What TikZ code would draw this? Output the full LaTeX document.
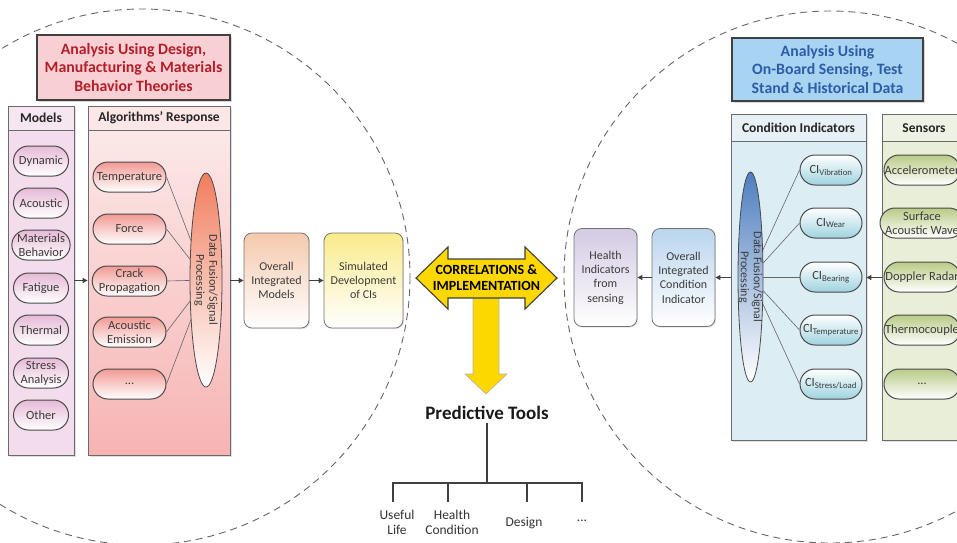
\documentclass[tikz,border=0pt]{standalone}
\usepackage{fontspec}
\setmainfont{Carlito}
\usetikzlibrary{shapes.misc,shapes.geometric,arrows.meta,shadows}

\definecolor{txt}{HTML}{3C3C3C}
\definecolor{edge}{HTML}{4A4A4A}
\definecolor{colline}{HTML}{6B6B6B}
\definecolor{leftTitleFill}{HTML}{F8D0D3}
\definecolor{leftTitleText}{HTML}{B21F2B}
\definecolor{rightTitleFill}{HTML}{A8D4F1}
\definecolor{rightTitleText}{HTML}{2D5CA8}
\definecolor{modelsBody}{HTML}{F3DDEC}
\definecolor{modelsHead}{HTML}{F6E6F1}
\definecolor{modelsPill}{HTML}{E6B9D6}
\definecolor{algoHead}{HTML}{FCE6E6}
\definecolor{algoTop}{HTML}{FDECEC}
\definecolor{algoBottom}{HTML}{F6B4B3}
\definecolor{algoPill}{HTML}{F29A94}
\definecolor{algoFuse}{HTML}{F17D5E}
\definecolor{ciBody}{HTML}{DDEDF4}
\definecolor{ciHead}{HTML}{E7F0F5}
\definecolor{ciPill}{HTML}{9ED2DF}
\definecolor{ciFuse}{HTML}{4E7EC0}
\definecolor{senBody}{HTML}{E8EED8}
\definecolor{senHead}{HTML}{EEF2E5}
\definecolor{senPill}{HTML}{B8CB86}
\definecolor{modelBox}{HTML}{F5C9AD}
\definecolor{simBox}{HTML}{F9EB8C}
\definecolor{healthBox}{HTML}{D4CAE3}
\definecolor{condBox}{HTML}{BAD5EE}
\definecolor{gold}{HTML}{FDD700}

\newcommand\cisub[1]{CI\textsubscript{#1}}

\begin{document}
\begin{tikzpicture}[x=1pt,y=-1pt,
  every node/.style={text=txt, align=center, font=\fontsize{12.5}{14}\selectfont},
  region/.style={draw=black!60, line width=0.9pt, dash pattern=on 7pt off 5pt},
  title/.style={draw=black!75, line width=1.1pt, inner sep=0pt,
    font=\fontsize{15.8}{18.5}\selectfont\bfseries,
    drop shadow={shadow xshift=2pt,shadow yshift=-2pt,opacity=0.3}},
  colbody/.style={draw=colline, line width=0.8pt, inner sep=0pt,
    drop shadow={shadow xshift=1.5pt,shadow yshift=-1.5pt,opacity=0.25}},
  colhead/.style={draw=colline, line width=0.8pt, inner sep=0pt, text=black!85,
    font=\fontsize{13.5}{15}\selectfont\bfseries},
  pill/.style={rounded rectangle, draw=edge, line width=1pt, inner xsep=0pt,
    inner ysep=1pt, minimum height=30pt, bottom color=white},
  fuse/.style={ellipse, draw=edge, line width=0.8pt, inner sep=0pt, bottom color=white},
  fusetext/.style={rotate=-90, inner sep=0pt, font=\fontsize{12}{13}\selectfont},
  stage/.style={rectangle, rounded corners=8pt, draw=black!55, line width=0.8pt,
    inner sep=0pt, bottom color=white, font=\fontsize{12}{14.3}\selectfont,
    drop shadow={shadow xshift=1.2pt,shadow yshift=-1.2pt,opacity=0.2}},
  link/.style={draw=black!60, line width=0.6pt},
  arr/.style={draw=black!75, line width=0.9pt, -{Triangle[length=5pt,width=5pt]}},
  tree/.style={draw=black!75, line width=1.5pt},
  leaf/.style={text=black!80, font=\fontsize{13.5}{15}\selectfont}
]
\useasboundingbox (0,0) rectangle (957,542);
\clip (0,0) rectangle (957,542);

% the two dashed analysis domains
\draw[region] (142,277) circle[radius=268];
\draw[region] (830,277) circle[radius=266];

% ---------------- left domain ----------------
\node[title, fill=leftTitleFill, text=leftTitleText, minimum width=193pt,
  minimum height=65pt] (ltitle) at (133.5,67.5)
  {Analysis Using Design,\\Manufacturing \& Materials\\Behavior Theories};

% models column
\node[colbody, fill=modelsBody, minimum width=66pt, minimum height=349pt] (models) at (41,280.5) {};
\node[colhead, fill=modelsHead, minimum width=66pt, minimum height=24pt] (modelsHd) at (41,118) {Models};
\node[pill, top color=modelsPill, minimum width=55pt] (m1) at (41,161) {Dynamic};
\node[pill, top color=modelsPill, minimum width=55pt] (m2) at (41,203) {Acoustic};
\node[pill, top color=modelsPill, minimum width=55pt] (m3) at (41,245) {Materials\\Behavior};
\node[pill, top color=modelsPill, minimum width=55pt] (m4) at (41,288) {Fatigue};
\node[pill, top color=modelsPill, minimum width=55pt] (m5) at (41,330) {Thermal};
\node[pill, top color=modelsPill, minimum width=55pt] (m6) at (41,373) {Stress\\Analysis};
\node[pill, top color=modelsPill, minimum width=55pt] (m7) at (41,415) {Other};

% algorithms column
\node[colbody, top color=algoTop, bottom color=algoBottom, minimum width=142pt,
  minimum height=349pt] (algo) at (159,280.5) {};
\node[colhead, fill=algoHead, minimum width=142pt, minimum height=24pt] (algoHd) at (159,118) {Algorithms’ Response};
\node[pill, top color=algoPill, minimum width=73pt] (a1) at (129.5,177) {Temperature};
\node[pill, top color=algoPill, minimum width=73pt] (a2) at (129.5,229) {Force};
\node[pill, top color=algoPill, minimum width=73pt] (a3) at (129.5,281) {Crack\\Propagation};
\node[pill, top color=algoPill, minimum width=73pt] (a4) at (129.5,332) {Acoustic\\Emission};
\node[pill, top color=algoPill, minimum width=73pt] (a5) at (129.5,384) {...};

\node[fuse, top color=algoFuse, minimum width=32pt, minimum height=214pt] (fuseL) at (206,280) {};
\node[fusetext] (fuseLtext) at (fuseL) {Data Fusion/Signal\\Processing};
\foreach \p in {a1,a2,a3,a4,a5}
  \draw[link] (\p.east) -- (fuseL);

% integration stages
\node[stage, top color=modelBox, minimum width=65pt, minimum height=95pt] (oim) at (276.5,280.5)
  {Overall\\Integrated\\Models};
\node[stage, top color=simBox, minimum width=79pt, minimum height=95pt] (sim) at (363.5,280.5)
  {Simulated\\Development\\of CIs};

\draw[arr] (models.east) -- (algo.west);
\draw[arr] (algo.east) -- (oim.west);
\draw[arr] (oim.east) -- (sim.west);

% ---------------- centre ----------------
\filldraw[fill=gold, draw=black!30, line width=0.6pt]
  (473,297) -- (499,297) -- (499,374) -- (507,374) -- (486,394) -- (465,374) -- (473,374) -- cycle;
\filldraw[fill=gold, draw=black!75, line width=1.1pt]
  (416,278) -- (448,247) -- (448,259) -- (525,259) -- (525,247) -- (557,278)
  -- (525,309) -- (525,298) -- (448,298) -- (448,309) -- cycle;
\node[text=black, font=\fontsize{14}{16}\selectfont\bfseries] (corr) at (486.5,278)
  {CORRELATIONS \&\\IMPLEMENTATION};

\node[text=black!90, font=\fontsize{19}{21}\selectfont\bfseries] (pt) at (487,413) {Predictive Tools};
\coordinate (junc) at (487,483);
\coordinate (d1) at (393,502);
\coordinate (d2) at (448,502);
\coordinate (d3) at (527,502);
\coordinate (d4) at (582,502);
\draw[tree] (pt.south) -- (junc);
\draw[tree] (junc) -| (d1);
\draw[tree] (junc) -| (d2);
\draw[tree] (junc) -| (d3);
\draw[tree] (junc) -| (d4);
\node[leaf] (life) at (397,522.5) {Useful\\Life};
\node[leaf] (cond) at (452,522.5) {Health\\Condition};
\node[leaf] (design) at (524,523) {Design};
\node[leaf] (more) at (582,521) {...};

% ---------------- right domain ----------------
\node[title, fill=rightTitleFill, text=rightTitleText, minimum width=191pt,
  minimum height=63pt] (rtitle) at (827.5,69.5)
  {Analysis Using\\On-Board Sensing, Test\\Stand \& Historical Data};

% condition indicators column
\node[colbody, fill=ciBody, minimum width=135pt, minimum height=326pt] (ci) at (798.5,277.5) {};
\node[colhead, fill=ciHead, minimum width=135pt, minimum height=27pt] (ciHd) at (798.5,128) {Condition Indicators};
\node[pill, top color=white, bottom color=ciPill, minimum width=62pt] (c1) at (831,170) {\cisub{Vibration}};
\node[pill, top color=white, bottom color=ciPill, minimum width=62pt] (c2) at (831,223) {\cisub{Wear}};
\node[pill, top color=white, bottom color=ciPill, minimum width=62pt] (c3) at (831,277) {\cisub{Bearing}};
\node[pill, top color=white, bottom color=ciPill, minimum width=62pt] (c4) at (831,330) {\cisub{Temperature}};
\node[pill, top color=white, bottom color=ciPill, minimum width=62pt] (c5) at (831,384) {\cisub{Stress/Load}};

\node[fuse, top color=ciFuse, minimum width=25pt, minimum height=210pt] (fuseR) at (750.5,277) {};
\node[fusetext] (fuseRtext) at (fuseR) {Data Fusion/Signal\\Processing};
\foreach \p in {c1,c2,c3,c4,c5}
  \draw[link] (fuseR) -- (\p.west);

% sensors column
\node[colbody, fill=senBody, minimum width=84pt, minimum height=326pt] (sen) at (924,277.5) {};
\node[colhead, fill=senHead, minimum width=84pt, minimum height=27pt] (senHd) at (924,128) {Sensors};
\node[pill, top color=senPill, minimum width=76pt] (s1) at (922,170) {Accelerometer};
\node[pill, top color=senPill, minimum width=76pt] (s2) at (922,223) {Surface\\Acoustic Wave};
\node[pill, top color=senPill, minimum width=76pt] (s3) at (922,277) {Doppler Radar};
\node[pill, top color=senPill, minimum width=76pt] (s4) at (922,330) {Thermocouple};
\node[pill, top color=senPill, minimum width=76pt] (s5) at (922,384) {...};

% sensing-side stages
\node[stage, top color=condBox, minimum width=63pt, minimum height=98pt] (oici) at (683.5,277.5)
  {Overall\\Integrated\\Condition\\Indicator};
\node[stage, top color=healthBox, minimum width=63pt, minimum height=98pt] (health) at (605.5,277.5)
  {Health\\Indicators\\from\\sensing};

\draw[arr] (sen.west) -- (ci.east);
\draw[arr] (ci.west) -- (oici.east);
\draw[arr] (oici.west) -- (health.east);
\end{tikzpicture}
\end{document}
